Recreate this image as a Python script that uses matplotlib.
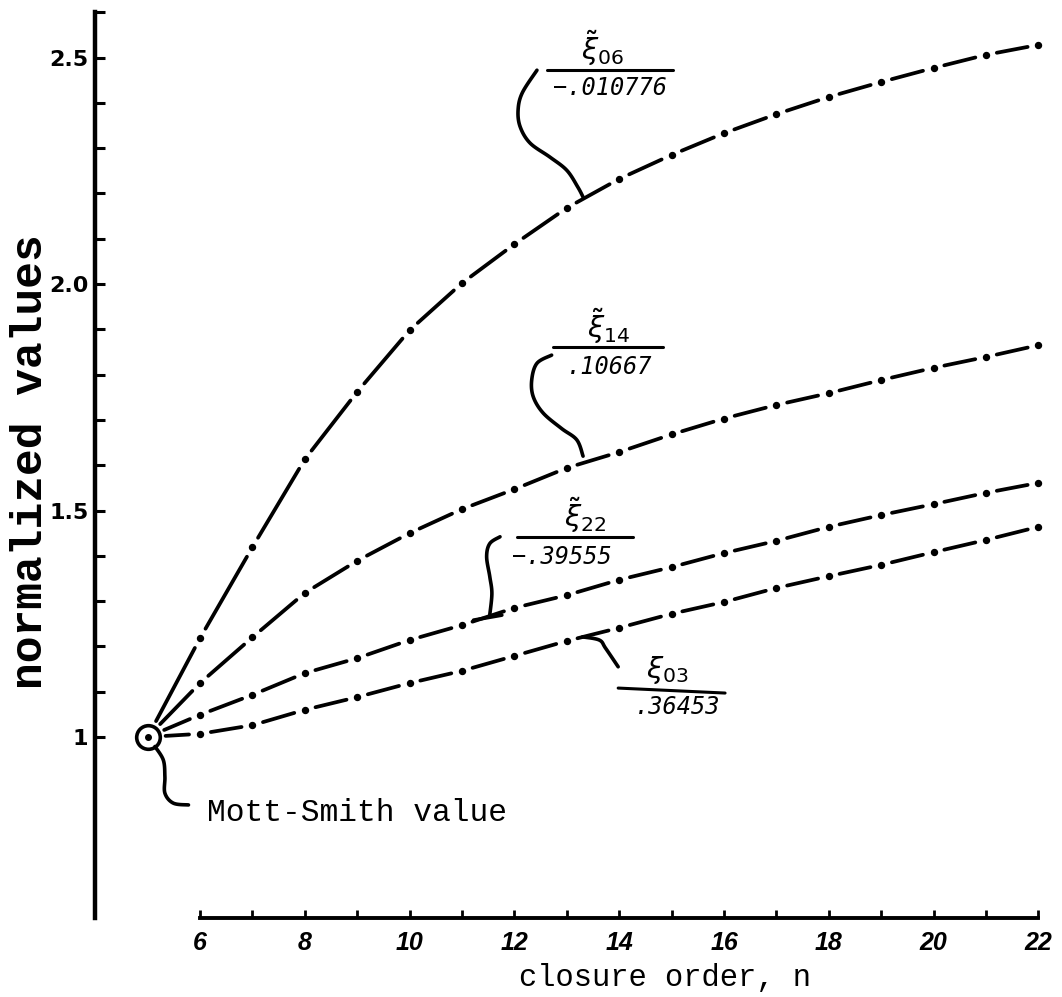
import numpy as np
import matplotlib.pyplot as plt
from matplotlib.collections import LineCollection

plt.rcParams['mathtext.fontset'] = 'dejavusans'

# closure order n, the first point (n=5) is the Mott-Smith value
n = np.arange(5, 23)

# normalized values
xi_06 = [1.000, 1.218, 1.419, 1.613, 1.762, 1.898, 2.002, 2.088, 2.168,
         2.232, 2.285, 2.333, 2.375, 2.413, 2.446, 2.477, 2.506, 2.528]
xi_14 = [1.000, 1.119, 1.220, 1.318, 1.389, 1.450, 1.503, 1.547, 1.594,
         1.629, 1.668, 1.703, 1.733, 1.759, 1.788, 1.815, 1.839, 1.865]
xi_22 = [1.000, 1.049, 1.093, 1.141, 1.174, 1.214, 1.247, 1.285, 1.313,
         1.347, 1.375, 1.406, 1.433, 1.464, 1.490, 1.514, 1.539, 1.561]
xi_03 = [1.000, 1.007, 1.026, 1.060, 1.088, 1.119, 1.146, 1.179, 1.212,
         1.241, 1.272, 1.298, 1.329, 1.355, 1.380, 1.408, 1.435, 1.464]

mott_smith_n = 5
mott_smith_value = 1.0

x_major = np.arange(6, 23, 2)
x_minor = np.arange(7, 22, 2)
y_major = [1.0, 1.5, 2.0, 2.5]
y_major_labels = ['1', '1.5', '2.0', '2.5']
y_minor = [1.1, 1.2, 1.3, 1.4, 1.6, 1.7, 1.8, 1.9, 2.1, 2.2, 2.3, 2.4, 2.6]

# curve labels: numerator, denominator
labels = {
    'xi_06': (r'$\tilde{\xi}_{06}$', '\u2212.010776'),
    'xi_14': (r'$\tilde{\xi}_{14}$', '.10667'),
    'xi_22': (r'$\tilde{\xi}_{22}$', '\u2212.39555'),
    'xi_03': (r'$\xi_{03}$', '.36453'),
}


def smooth(pts, k=14):
    """Catmull-Rom curve through the given points"""
    p = np.asarray(pts, float)
    p = np.vstack([p[0], p, p[-1]])
    t = np.linspace(0, 1, k, endpoint=False)[:, None]
    out = []
    for i in range(1, len(p) - 2):
        p0, p1, p2, p3 = p[i - 1], p[i], p[i + 1], p[i + 2]
        out.append(0.5 * (2 * p1 + (-p0 + p2) * t
                          + (2 * p0 - 5 * p1 + 4 * p2 - p3) * t ** 2
                          + (-p0 + 3 * p1 - 3 * p2 + p3) * t ** 3))
    out.append(p[-2][None])
    return np.vstack(out)


def dash_dot_curve(ax, xs, ys, gap=11.0, first_gap=18.0):
    # one dash between each pair of points, a dot on every point
    pts = ax.transData.transform(np.column_stack([xs, ys]))
    inv = ax.transData.inverted()
    segs = []
    for i in range(len(pts) - 1):
        a, b = pts[i], pts[i + 1]
        d = np.hypot(*(b - a))
        g0 = first_gap if i == 0 else gap
        seg = [a + (g0 / d) * (b - a), a + (1 - gap / d) * (b - a)]
        segs.append(inv.transform(np.array(seg)))
    ax.add_collection(LineCollection(segs, colors='k', linewidths=2.7,
                                     capstyle='round'))
    ax.plot(xs[1:], ys[1:], 'o', color='k', ms=4.3)


def frac_label(ax, num, den, num_xy, bar, den_xy):
    ax.text(*num_xy, num, fontsize=21, ha='center', va='bottom')
    ax.plot(bar[0], bar[1], color='k', lw=2.2, solid_capstyle='round')
    ax.text(*den_xy, den, fontsize=17, ha='center', va='center',
            family='DejaVu Sans Mono', style='oblique')


def pen(ax, pts, lw=2.6):
    c = smooth(pts)
    ax.plot(c[:, 0], c[:, 1], color='k', lw=lw, solid_capstyle='round')


fig = plt.figure(figsize=(10.62, 9.97), dpi=100)
ax = fig.add_axes([0, 0, 1, 1])
ax.set_xlim(2.183, 22.45)
ax.set_ylim(0.426, 2.627)

for s in ['top', 'right']:
    ax.spines[s].set_visible(False)
ax.spines['left'].set_position(('data', 4))
ax.spines['left'].set_bounds(0.6, 2.6)
ax.spines['bottom'].set_position(('data', 0.6))
ax.spines['bottom'].set_bounds(6, 22)
ax.spines['left'].set_linewidth(3.2)
ax.spines['bottom'].set_linewidth(2.8)

ax.set_xticks(x_major)
ax.set_xticks(x_minor, minor=True)
ax.set_xticklabels([str(v) for v in x_major], fontsize=18,
                   family='Liberation Sans', weight='bold', style='italic')
ax.set_yticks(y_major)
ax.set_yticks(y_minor, minor=True)
ax.set_yticklabels(y_major_labels, fontsize=16, weight='bold')
ax.tick_params(axis='x', which='both', direction='in', length=6, width=2, pad=9)
ax.tick_params(axis='y', which='both', direction='in', length=7.5, width=2.2, pad=5)

for series in [xi_06, xi_14, xi_22, xi_03]:
    dash_dot_curve(ax, n, np.array(series))

# Mott-Smith point
ax.plot(mott_smith_n, mott_smith_value, 'o', mfc='white', mec='k', ms=17, mew=2.6)
ax.plot(mott_smith_n, mott_smith_value, 'o', color='k', ms=4)
pen(ax, [(5.14, 0.979), (5.30, 0.949), (5.33, 0.912), (5.33, 0.876),
         (5.49, 0.854), (5.78, 0.850)])
ax.text(6.13, 0.832, 'Mott-Smith value', fontsize=22.5, family='Liberation Mono',
        ha='left', va='center')

# curve labels with their pointers
frac_label(ax, *labels['xi_06'], (13.69, 2.476),
           ([12.62, 15.02], [2.472, 2.472]), (13.82, 2.433))
pen(ax, [(12.43, 2.472), (12.15, 2.422), (12.07, 2.384), (12.11, 2.347),
         (12.30, 2.311), (12.68, 2.280), (13.00, 2.251), (13.21, 2.214),
         (13.31, 2.192)])

frac_label(ax, *labels['xi_14'], (13.79, 1.864),
           ([12.73, 14.83], [1.861, 1.861]), (13.82, 1.817))
pen(ax, [(12.71, 1.843), (12.43, 1.825), (12.33, 1.788), (12.36, 1.751),
         (12.55, 1.715), (12.90, 1.681), (13.19, 1.656), (13.31, 1.620)])

frac_label(ax, *labels['xi_22'], (13.35, 1.445),
           ([12.05, 14.26], [1.4415, 1.4415]), (12.91, 1.397))
pen(ax, [(11.725, 1.442), (11.53, 1.427), (11.47, 1.398), (11.53, 1.354),
         (11.57, 1.317), (11.53, 1.270)])
ax.plot([11.22, 11.76], [1.258, 1.269], color='k', lw=2.6, solid_capstyle='round')

frac_label(ax, *labels['xi_03'], (14.91, 1.112),
           ([13.98, 16.02], [1.108, 1.097]), (15.12, 1.066))
pen(ax, [(13.30, 1.221), (13.62, 1.214), (13.74, 1.196), (13.98, 1.155)])

# axis titles
ax.text(14.87, 0.468, 'closure order, n', fontsize=22, family='Liberation Mono',
        ha='center', va='center')
ax.text(2.756, 1.607, 'normalized values', fontsize=32, family='Liberation Mono',
        weight='bold', rotation=90, ha='center', va='center')

fig.savefig('out.png', dpi=100, facecolor='white')
